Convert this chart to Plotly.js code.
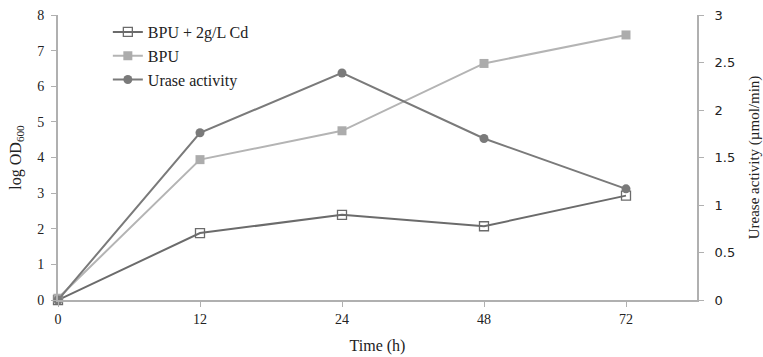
<!DOCTYPE html>
<html>
<head>
<meta charset="utf-8">
<script src="https://cdn.plot.ly/plotly-3.0.1.min.js"></script>
<style>html,body{margin:0;padding:0;background:#fff;}#chart{width:763px;height:357px;}</style>
</head>
<body>
<div id="chart"></div>
<script>
const timeLabels = ["0", "12", "24", "48", "72"];
const bpuCd = [0, 1.88, 2.39, 2.07, 2.93];
const bpu = [0.05, 3.94, 4.75, 6.64, 7.44];
const urease = [0, 1.76, 2.39, 1.70, 1.17];

const xIdx = timeLabels.map((_, i) => i);
const serif = "Liberation Serif, Times New Roman, serif";
const sans = "DejaVu Sans, Verdana, sans-serif";

const traces = [
  {
    x: xIdx, y: bpuCd, name: "BPU + 2g/L Cd", type: "scatter", mode: "lines+markers",
    line: {color: "#6b6b6b", width: 2},
    marker: {symbol: "square-open", size: 9, color: "#6b6b6b", line: {width: 1.3, color: "#6b6b6b"}},
    cliponaxis: false
  },
  {
    x: xIdx, y: bpu, name: "BPU", type: "scatter", mode: "lines+markers",
    line: {color: "#b4b4b4", width: 2},
    marker: {symbol: "square", size: 9, color: "#acacac"},
    cliponaxis: false
  },
  {
    x: xIdx, y: urease, name: "Urase activity", type: "scatter", mode: "lines+markers",
    yaxis: "y2",
    line: {color: "#7a7a7a", width: 2},
    marker: {symbol: "circle", size: 9, color: "#7a7a7a"},
    cliponaxis: false
  }
];

const layout = {
  width: 763, height: 357,
  margin: {l: 58, r: 66, t: 15, b: 57},
  paper_bgcolor: "#fff", plot_bgcolor: "#fff",
  showlegend: true,
  legend: {
    x: 0.078, y: 1.0, xanchor: "left", yanchor: "top",
    bgcolor: "rgba(0,0,0,0)",
    font: {family: serif, size: 16, color: "#222"},
    tracegroupgap: 0, itemwidth: 30
  },
  xaxis: {
    range: [0, 4.5],
    tickvals: xIdx, ticktext: timeLabels,
    showgrid: false, zeroline: false,
    showline: true, linecolor: "#b0b0b0", linewidth: 2,
    ticks: "outside", ticklen: 5, tickcolor: "#b0b0b0", tickwidth: 1,
    tickfont: {family: serif, size: 14, color: "#222"},
    title: {text: "Time (h)", font: {family: serif, size: 16, color: "#222"}, standoff: 14}
  },
  yaxis: {
    range: [0, 8], dtick: 1,
    showgrid: false, zeroline: false,
    showline: true, linecolor: "#b0b0b0", linewidth: 2,
    ticks: "outside", ticklen: 5, tickcolor: "#b0b0b0", tickwidth: 1,
    ticklabelstandoff: 4,
    tickfont: {family: serif, size: 14, color: "#222"},
    title: {text: "log OD<sub>600</sub>", font: {family: serif, size: 16, color: "#222"}, standoff: 12}
  },
  yaxis2: {
    range: [0, 3], dtick: 0.5, overlaying: "y", side: "right",
    showgrid: false, zeroline: false,
    showline: true, linecolor: "#b0b0b0", linewidth: 2,
    ticks: "outside", ticklen: 5, tickcolor: "#b0b0b0", tickwidth: 1,
    ticklabelstandoff: 8,
    tickfont: {family: sans, size: 13, color: "#222"},
    title: {text: "Urease activity (µmol/min)", font: {family: serif, size: 15, color: "#222"}, standoff: 14}
  }
};

Plotly.newPlot("chart", traces, layout, {displayModeBar: false, staticPlot: true});
</script>
</body>
</html>
